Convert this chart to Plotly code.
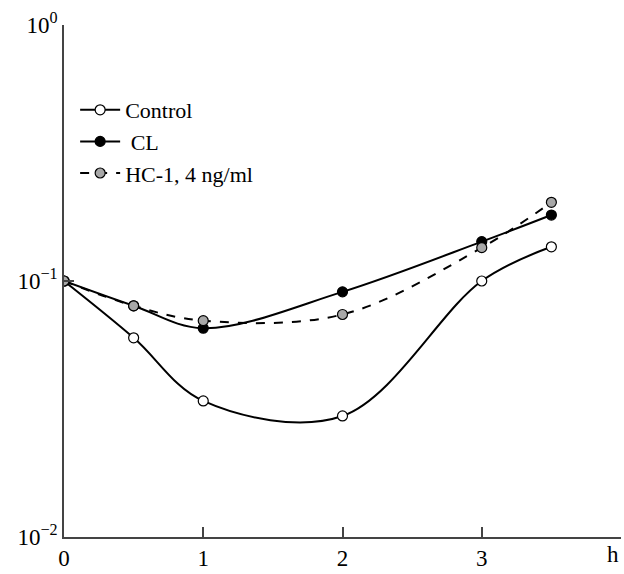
import plotly.graph_objects as go

hours = [0, 0.5, 1, 2, 3, 3.5]
control = [0.1, 0.060, 0.034, 0.0297, 0.100, 0.136]
cl = [0.1, 0.080, 0.0654, 0.0907, 0.1425, 0.181]
hc1 = [0.1, 0.080, 0.070, 0.074, 0.135, 0.203]

x_ticks = [0, 1, 2, 3, 4]
x_ticktext = ["0", "1", "2", "3", ""]
y_ticks = [0.01, 0.1, 1]
y_ticktext = ["10<sup>−2</sup>", "10<sup>−1</sup>", "10<sup>0</sup>"]

FONT = "Liberation Serif"

fig = go.Figure()
fig.add_trace(go.Scatter(
    x=hours, y=control, name="Control", mode="lines+markers",
    line=dict(color="black", width=2, shape="spline"),
    marker=dict(symbol="circle", size=10, color="white", line=dict(color="black", width=1.2)),
))
fig.add_trace(go.Scatter(
    x=hours, y=cl, name=" CL", mode="lines+markers",
    line=dict(color="black", width=2, shape="spline"),
    marker=dict(symbol="circle", size=10, color="black", line=dict(color="black", width=1.2)),
))
fig.add_trace(go.Scatter(
    x=hours, y=hc1, name="HC-1, 4 ng/ml", mode="lines+markers",
    line=dict(color="black", width=2, shape="spline", dash="dash"),
    marker=dict(symbol="circle", size=10, color="#a8a8a8", line=dict(color="black", width=1.2)),
))

fig.update_layout(
    width=624, height=574,
    margin=dict(l=64, r=3, t=25, b=30),
    paper_bgcolor="white", plot_bgcolor="white",
    font=dict(family=FONT, size=22, color="black"),
    showlegend=True,
    legend=dict(x=0.02, y=0.875, xanchor="left", yanchor="top",
                bgcolor="rgba(0,0,0,0)", font=dict(family=FONT, size=22),
                tracegroupgap=0, itemwidth=40),
    xaxis=dict(range=[0, 4], tickvals=x_ticks, ticktext=x_ticktext,
               showgrid=False, zeroline=False, showline=True,
               linecolor="#444", linewidth=1.5,
               ticks="inside", ticklen=10, tickcolor="#444", tickwidth=1.5,
               tickfont=dict(family=FONT, size=23)),
    yaxis=dict(type="log", range=[-2, 0], tickvals=y_ticks, ticktext=y_ticktext,
               showgrid=False, zeroline=False, showline=True,
               linecolor="#444", linewidth=1.5,
               ticks="inside", ticklen=10, tickcolor="#444", tickwidth=1.5,
               tickfont=dict(family=FONT, size=23)),
    annotations=[dict(x=4, y=0, xref="x", yref="paper", text="h", showarrow=False,
                      xanchor="right", yanchor="top", yshift=-3,
                      font=dict(family=FONT, size=23))],
)

fig.write_html("out.html")
